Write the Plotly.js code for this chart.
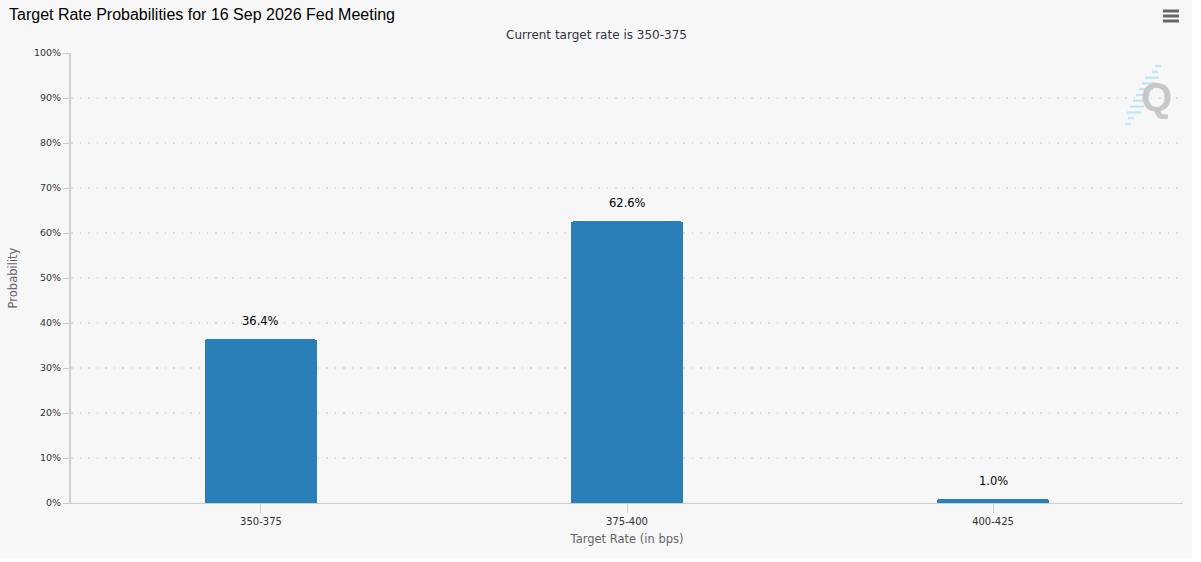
<!DOCTYPE html>
<html>
<head>
<meta charset="utf-8">
<script src="https://cdn.plot.ly/plotly-3.0.1.min.js"></script>
<style>
html,body{margin:0;padding:0;background:#ffffff;}
#chart{width:1192px;height:558px;}
</style>
</head>
<body>
<div id="chart"></div>
<script>
const categories = ["350-375", "375-400", "400-425"];
const probabilities = [36.4, 62.6, 1.0];
const yTickValues = [0,10,20,30,40,50,60,70,80,90,100];
const yTickLabels = ["0%","10%","20%","30%","40%","50%","60%","70%","80%","90%","100%"];
const chartTitle = "Target Rate Probabilities for 16 Sep 2026 Fed Meeting";
const subTitle = "Current target rate is 350-375";

const labelFont = "'DejaVu Sans', Verdana, sans-serif";
const W = 1192, H = 558, L = 71, R = 9, T = 53, B = 55;
const pw = W - L - R, ph = H - T - B;
const px = x => (x - L) / pw;           // page px -> paper x
const py = y => (H - B - y) / ph;       // page px -> paper y

const trace = {
  type: "bar",
  x: [0,1,2],
  y: probabilities,
  width: 0.306,
  marker: {color: "#2980b9", cornerradius: 3, line: {width: 0}},
  hoverinfo: "none"
};

const valueLabels = probabilities.map((v, i) => ({
  text: v.toFixed(1) + "%", xref: "x", yref: "y", x: i, y: v,
  xanchor: "center", yanchor: "bottom", yshift: 9, showarrow: false,
  font: {family: labelFont, size: 11.5, color: "#000000"}
}));

// decorations: watermark stripes and menu icon
const decor = [];
for (let k = 0; k < 11; k++) {
  const yy = 124 - k * 5.8;
  const xc = 1128 + k * 3.0;
  const len = (k < 2 || k > 8) ? 6 : 14;
  decor.push({type: "line", xref: "paper", yref: "paper",
    x0: px(xc - len/2), x1: px(xc + len/2), y0: py(yy), y1: py(yy),
    line: {color: "#bfe6f5", width: 2.2}, layer: "below"});
}
[11, 16, 21].forEach(yy => {
  decor.push({type: "line", xref: "paper", yref: "paper",
    x0: px(1163), x1: px(1179), y0: py(yy), y1: py(yy),
    line: {color: "#666666", width: 3}});
});

const layout = {
  width: W, height: H,
  paper_bgcolor: "#f7f7f7",
  plot_bgcolor: "#f7f7f7",
  margin: {l: L, r: R, t: T, b: B},
  showlegend: false,
  bargap: 0,
  title: {
    text: chartTitle,
    font: {family: "'Liberation Sans', Arial, sans-serif", size: 16, color: "#000000"},
    xref: "container", yref: "container",
    x: 9/W, xanchor: "left",
    y: 1 - 14/H, yanchor: "middle"
  },
  xaxis: {
    range: [-0.519, 2.519],
    tickvals: [0,1,2],
    ticktext: categories,
    ticks: "outside", ticklen: 9, tickcolor: "#cccccc", tickwidth: 1,
    showline: true, linecolor: "#cccccc", linewidth: 1,
    showgrid: false, zeroline: false,
    tickfont: {family: labelFont, size: 10, color: "#333333"},
    title: {text: "Target Rate (in bps)", font: {family: labelFont, size: 11.5, color: "#666666"}, standoff: 8},
    fixedrange: true
  },
  yaxis: {
    range: [0, 100],
    tickvals: yTickValues,
    ticktext: yTickLabels,
    ticks: "outside", ticklen: 6, tickcolor: "#cccccc",
    showline: true, linecolor: "#d0d0d0", linewidth: 2,
    showgrid: true, gridcolor: "#dcdcdc", griddash: "1.5px,7px", gridwidth: 1.5,
    zeroline: false,
    tickfont: {family: labelFont, size: 9.5, color: "#333333"},
    title: {text: "Probability", font: {family: labelFont, size: 11.5, color: "#6a5f72"}, standoff: 14},
    fixedrange: true
  },
  shapes: decor,
  annotations: valueLabels.concat([
    {text: subTitle, xref: "paper", yref: "paper", x: px(596), y: py(35),
     xanchor: "center", yanchor: "middle", showarrow: false,
     font: {family: labelFont, size: 12, color: "#333344"}},
    {text: "<b>Q</b>", xref: "paper", yref: "paper", x: px(1156), y: py(97),
     xanchor: "center", yanchor: "middle", showarrow: false,
     font: {family: "'Liberation Sans', Arial, sans-serif", size: 40, color: "#c8c8c8"}}
  ])
};

Plotly.newPlot("chart", [trace], layout, {displayModeBar: false, staticPlot: true});
</script>
</body>
</html>
